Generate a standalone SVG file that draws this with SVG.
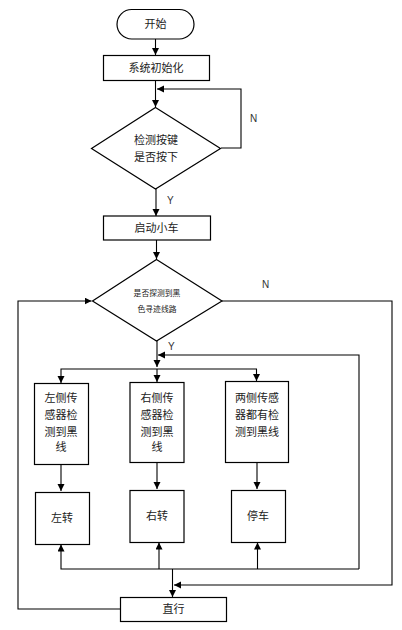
<svg xmlns="http://www.w3.org/2000/svg" width="402" height="630" viewBox="0 0 402 630">
<style>
.n{fill:#fff;stroke:#000;stroke-width:1.2}
.t{font-family:"Liberation Sans","Noto Sans CJK SC",sans-serif;font-size:11px;fill:#222;text-anchor:middle}
.s{font-size:7.8px}
.l{font-family:"Liberation Sans",sans-serif;font-size:10px;fill:#333}
.c{fill:none;stroke:#000;stroke-width:1.1}
</style>
<defs>
<marker id="a" markerUnits="userSpaceOnUse" markerWidth="8" markerHeight="8" refX="7" refY="3.5" orient="auto"><path d="M0,0 L7,3.5 L0,7 z" fill="#000"/></marker>
</defs>
<rect width="402" height="630" fill="#fff"/>
<g id="connectors">
<path class="c" d="M155.5 39 V55" marker-end="url(#a)"/>
<path class="c" d="M155.5 80 V107" marker-end="url(#a)"/>
<path class="c" d="M221 148 H241 V89 H157" marker-end="url(#a)"/>
<path class="c" d="M156 189 V216" marker-end="url(#a)"/>
<path class="c" d="M156.5 240 V259" marker-end="url(#a)"/>
<path class="c" d="M120 609 H18 V301 H91.5" marker-end="url(#a)"/>
<path class="c" d="M222 301 H392 V585 H174" marker-end="url(#a)"/>
<path class="c" d="M157 341 V367" marker-end="url(#a)"/>
<path class="c" d="M359 569 V355 H158" marker-end="url(#a)"/>
<path class="c" d="M157 369 V382" marker-end="url(#a)"/>
<path class="c" d="M157 369 H61 V383" marker-end="url(#a)"/>
<path class="c" d="M157 369 H256.5 V381" marker-end="url(#a)"/>
<path class="c" d="M61 464 V491" marker-end="url(#a)"/>
<path class="c" d="M157 462 V489" marker-end="url(#a)"/>
<path class="c" d="M257 462 V489" marker-end="url(#a)"/>
<path class="c" d="M359 569 H61 V544.5" marker-end="url(#a)"/>
<path class="c" d="M159 569 V542.5" marker-end="url(#a)"/>
<path class="c" d="M257.5 569 V542.5" marker-end="url(#a)"/>
<path class="c" d="M172.5 569 V597" marker-end="url(#a)"/>
</g>
<text class="l" x="250" y="122">N</text>
<text class="l" x="167" y="204">Y</text>
<text class="l" x="262" y="288">N</text>
<text class="l" x="168" y="350">Y</text>
<g id="start"><rect class="n" x="117" y="9.5" width="77" height="29.5" rx="14.75"/><text class="t" x="155.5" y="28">开始</text></g>
<g id="init"><rect class="n" x="103.5" y="55.5" width="106" height="25"/><text class="t" x="156" y="72">系统初始化</text></g>
<g id="check"><polygon class="n" points="155.5,107.5 220.5,148.5 155.5,189 91.5,148.5"/><text class="t" x="156" y="144">检测按键</text><text class="t" x="156" y="161">是否按下</text></g>
<g id="startcar"><rect class="n" x="103.5" y="216" width="107" height="24"/><text class="t" x="156.5" y="232">启动小车</text></g>
<g id="detect"><polygon class="n" points="156.5,259.5 222,301 156.5,341 92.5,301"/><text class="t s" x="157" y="295.5">是否探测到黑</text><text class="t s" x="157" y="311.5">色寻迹线路</text></g>
<g id="left"><rect class="n" x="34.5" y="383.5" width="54" height="81"/><text class="t" x="61" y="401.5">左侧传</text><text class="t" x="61" y="418.5">感器检</text><text class="t" x="61" y="435.5">测到黑</text><text class="t" x="61" y="450.5">线</text></g>
<g id="right"><rect class="n" x="130" y="382.5" width="54" height="80"/><text class="t" x="157" y="401.5">右侧传</text><text class="t" x="157" y="418.5">感器检</text><text class="t" x="157" y="435.5">测到黑</text><text class="t" x="157" y="450.5">线</text></g>
<g id="both"><rect class="n" x="225.5" y="381.5" width="63" height="81"/><text class="t" x="257" y="401.5">两侧传感</text><text class="t" x="257" y="418.5">器都有检</text><text class="t" x="257" y="435.5">测到黑线</text></g>
<g id="turnleft"><rect class="n" x="35.5" y="492.5" width="54" height="52"/><text class="t" x="62" y="522">左转</text></g>
<g id="turnright"><rect class="n" x="130" y="490.5" width="54" height="52"/><text class="t" x="157" y="520">右转</text></g>
<g id="stop"><rect class="n" x="231.5" y="490.5" width="54" height="52"/><text class="t" x="258" y="520">停车</text></g>
<g id="straight"><rect class="n" x="120.5" y="597.5" width="106" height="24"/><text class="t" x="173.5" y="613">直行</text></g>
</svg>
